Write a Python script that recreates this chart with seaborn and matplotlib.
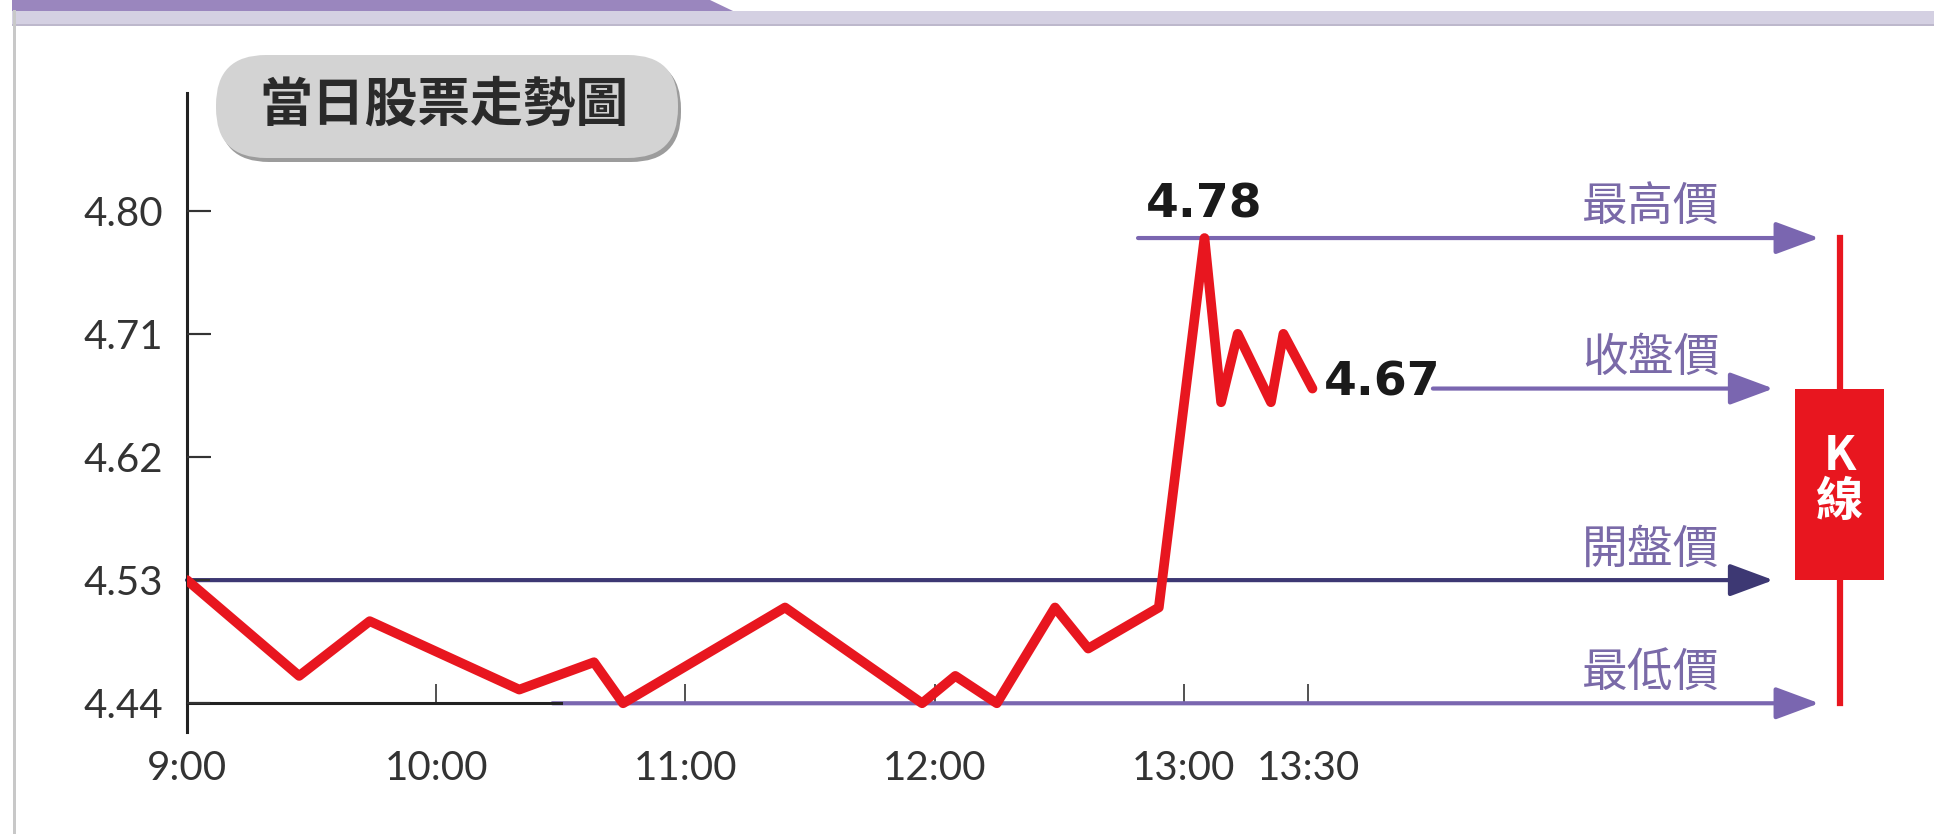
import matplotlib.pyplot as plt
import pandas as pd
import seaborn as sns
from matplotlib.patches import FancyBboxPatch, Polygon, Rectangle

# 當日分時價格（距 9:00 的分鐘數）
minutes = [0, 27, 44, 80, 98, 105, 144, 177, 185, 195, 209, 217, 234, 245, 249, 253, 261, 264, 271]
prices = [4.53, 4.46, 4.50, 4.45, 4.47, 4.44, 4.51, 4.44, 4.46, 4.44, 4.51, 4.48, 4.51,
          4.78, 4.66, 4.71, 4.66, 4.71, 4.67]

tick_pos = [0, 60, 120, 180, 240, 270]
tick_labels = ["9:00", "10:00", "11:00", "12:00", "13:00", "13:30"]
y_ticks = [4.44, 4.53, 4.62, 4.71, 4.80]

level_names = ["最高價", "收盤價", "開盤價", "最低價"]

# 顏色
RED = "#e8161f"
PURPLE = "#7a66b0"
NAVY = "#3d3873"
TEXT_PURPLE = "#7a6aa8"
AXIS = "#222222"

W, H = 1934, 834

sns.set_style("white")
plt.rcParams["font.family"] = ["Lato", "Noto Sans CJK TC", "DejaVu Sans"]

fig = plt.figure(figsize=(W / 100, H / 100), dpi=100)
fig.patch.set_facecolor("white")


def fx(px):
    return px / W


def fy(py):
    return 1 - py / H


# 頂部色帶與左邊框
fig.add_artist(Rectangle((fx(12), fy(25)), fx(W - 12), 14 / H, fc="#d4d0e2", ec="none",
                         transform=fig.transFigure))
fig.add_artist(Polygon([(fx(12), fy(0)), (fx(710), fy(0)), (fx(733), fy(11)), (fx(12), fy(11))],
                       closed=True, fc="#9a86be", ec="none", transform=fig.transFigure))
fig.add_artist(Rectangle((fx(12), fy(26)), fx(W - 12), 2 / H, fc="#bdb8cc", ec="none",
                         transform=fig.transFigure))
fig.add_artist(Rectangle((fx(13), 0), 3 / W, fy(10), fc="#c8c8c8", ec="none",
                         transform=fig.transFigure))

ax = fig.add_axes([fx(187), fy(732), 412 * 4.153 / W, (732 - 93) / H])
ax.set_facecolor("none")

df = pd.DataFrame({"time": minutes, "price": prices})
sns.lineplot(data=df, x="time", y="price", color=RED, linewidth=7, ax=ax, zorder=4)

ax.set_xlim(0, 412)
ax.set_ylim(4.419, 4.886)
ax.set_xlabel("")
ax.set_ylabel("")

open_p = prices[0]
close_p = prices[-1]
high_p = max(prices)
low_p = min(prices)
peak_t = minutes[prices.index(high_p)]
end_t = minutes[-1]

# 四條價位箭頭
levels = [high_p, close_p, open_p, low_p]
starts = [229, 300, 0, 88]
ends = [393, 382, 382, 393]
colors = [PURPLE, PURPLE, NAVY, PURPLE]
for name, lv, x0, x1, c in zip(level_names, levels, starts, ends, colors):
    ax.annotate("", xy=(x1, lv), xytext=(x0, lv),
                arrowprops=dict(arrowstyle="-|>,head_length=1.35,head_width=0.5",
                                mutation_scale=20, lw=3, color=c, shrinkA=0, shrinkB=0),
                annotation_clip=False, zorder=2)
    ax.annotate(name, xy=(369, lv), xytext=(0, 22), textcoords="offset points",
                ha="right", va="center", fontsize=33, color=TEXT_PURPLE,
                family=["Noto Sans CJK TC"])

# 最高價與收盤價數值
ax.annotate(f"{high_p:.2f}", xy=(peak_t, high_p), xytext=(0, 24), textcoords="offset points",
            ha="center", va="center", fontsize=34, fontweight="bold", color="#1a1a1a",
            family=["DejaVu Sans"])
ax.annotate(f"{close_p:.2f}", xy=(end_t, close_p), xytext=(8, 4), textcoords="offset points",
            ha="left", va="center", fontsize=34, fontweight="bold", color="#1a1a1a",
            family=["DejaVu Sans"])

# K 線
k_x = 398
ax.plot([k_x, k_x], [low_p, high_p], color=RED, lw=4.5, solid_capstyle="projecting",
        zorder=3, clip_on=False)
ax.add_patch(Rectangle((387.3, open_p), 21.2, close_p - open_p, fc=RED, ec="none", zorder=5,
                       clip_on=False))
ax.text(k_x, (open_p + close_p) / 2 + 0.004, "K\n線", ha="center", va="center", fontsize=34,
        fontweight="bold", color="white", linespacing=0.95, zorder=6,
        family=["Noto Sans CJK TC"])

# 坐標軸
for side in ["top", "right"]:
    ax.spines[side].set_visible(False)
ax.spines["left"].set_linewidth(2.2)
ax.spines["left"].set_color(AXIS)
ax.spines["bottom"].set_position(("data", 4.44))
ax.spines["bottom"].set_bounds(0, 90)
ax.spines["bottom"].set_linewidth(2.2)
ax.spines["bottom"].set_color(AXIS)

ax.set_xticks(tick_pos)
ax.set_xticklabels(tick_labels)
ax.set_yticks(y_ticks)
ax.set_yticklabels([f"{v:.2f}" for v in y_ticks])
ax.tick_params(axis="y", left=True, direction="in", length=17, width=1.5, pad=17,
               labelsize=29, colors="#333333")
ax.tick_params(axis="x", bottom=True, direction="in", length=14, width=1.2, pad=34,
               labelsize=29, colors="#333333")
# y 軸刻度短線（向右）
ax.hlines(y_ticks, 0, 5.5, color="#333333", lw=1.5, zorder=3)
ax.grid(False)

# 標題膠囊框
fig.add_artist(FancyBboxPatch((2.19, 6.72), 4.62, 1.03, boxstyle="round,pad=0,rounding_size=0.5",
                              fc="#9c9c9c", ec="none", transform=fig.dpi_scale_trans))
fig.add_artist(FancyBboxPatch((2.16, 6.76), 4.62, 1.03, boxstyle="round,pad=0,rounding_size=0.5",
                              fc="#d3d3d3", ec="none", transform=fig.dpi_scale_trans))
fig.text(fx(444), fy(105), "當日股票走勢圖", ha="center", va="center", fontsize=38,
         fontweight="bold", color="#2a2a2a", family=["Noto Sans CJK TC"])

fig.savefig("out.png", dpi=100)
